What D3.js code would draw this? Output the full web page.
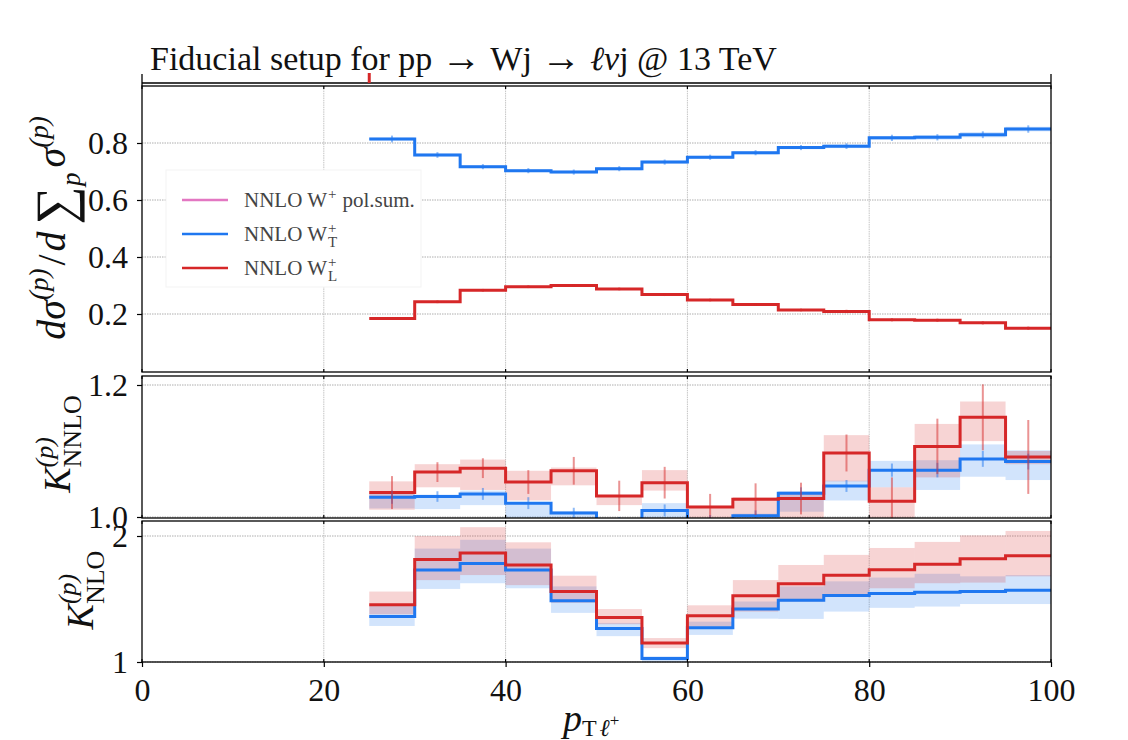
<!DOCTYPE html>
<html>
<head>
<meta charset="utf-8">
<script src="https://d3js.org/d3.v7.min.js"></script>
<style>
body { margin: 0; background: #fff; }
svg { display: block; font-family: "Liberation Serif", "DejaVu Serif", serif; }
</style>
</head>
<body>
<svg id="chart" width="1128" height="740"></svg>
<script>
// pT bins (GeV): lower edges plus the last upper edge
const binEdges = [25, 30, 35, 40, 45, 50, 55, 60, 65, 70, 75, 80, 85, 90, 95, 100];
const xTicks = [0, 20, 40, 60, 80, 100];

// top panel: polarisation fractions
const fracT    = [0.814, 0.758, 0.717, 0.703, 0.698, 0.710, 0.733, 0.750, 0.766, 0.784, 0.789, 0.818, 0.820, 0.829, 0.849];
const fracT_lo = [0.809, 0.753, 0.712, 0.698, 0.693, 0.704, 0.727, 0.744, 0.760, 0.778, 0.782, 0.811, 0.812, 0.820, 0.841];
const fracT_hi = [0.819, 0.763, 0.722, 0.708, 0.703, 0.715, 0.738, 0.755, 0.771, 0.789, 0.795, 0.824, 0.828, 0.838, 0.857];
const fracT_err = [0.012, 0.010, 0.009, 0.009, 0.009, 0.009, 0.009, 0.009, 0.009, 0.009, 0.010, 0.011, 0.011, 0.012, 0.013];
const fracL    = [0.184, 0.243, 0.283, 0.296, 0.300, 0.288, 0.268, 0.249, 0.233, 0.214, 0.209, 0.180, 0.178, 0.169, 0.150];
const fracL_lo = [0.181, 0.240, 0.280, 0.293, 0.297, 0.285, 0.265, 0.246, 0.230, 0.211, 0.206, 0.177, 0.175, 0.166, 0.147];
const fracL_hi = [0.187, 0.246, 0.286, 0.299, 0.303, 0.291, 0.271, 0.252, 0.236, 0.217, 0.212, 0.183, 0.181, 0.172, 0.153];
const fracL_err = [0.005, 0.005, 0.005, 0.005, 0.005, 0.005, 0.005, 0.005, 0.005, 0.005, 0.006, 0.006, 0.006, 0.006, 0.006];

// middle panel: K-factor NNLO/NLO
const kNNLO_T    = [1.030, 1.031, 1.035, 1.021, 1.006, 0.992, 1.010, 0.995, 1.002, 1.036, 1.047, 1.071, 1.071, 1.088, 1.084];
const kNNLO_T_lo = [1.013, 1.012, 1.018, 0.998, 0.990, 0.980, 0.995, 0.982, 0.990, 1.008, 1.025, 1.045, 1.041, 1.061, 1.056];
const kNNLO_T_hi = [1.036, 1.034, 1.040, 1.022, 1.009, 0.996, 1.021, 0.998, 1.005, 1.039, 1.055, 1.085, 1.086, 1.110, 1.101];
const kNNLO_T_err = [0.010, 0.008, 0.009, 0.009, 0.008, 0.008, 0.009, 0.008, 0.008, 0.009, 0.009, 0.010, 0.011, 0.012, 0.012];
const kNNLO_L    = [1.037, 1.068, 1.074, 1.053, 1.070, 1.032, 1.052, 1.015, 1.027, 1.028, 1.097, 1.024, 1.107, 1.151, 1.091];
const kNNLO_L_lo = [1.011, 1.045, 1.041, 1.025, 1.048, 1.018, 1.040, 0.998, 1.000, 0.998, 1.054, 0.990, 1.060, 1.115, 1.080];
const kNNLO_L_hi = [1.054, 1.080, 1.087, 1.070, 1.075, 1.033, 1.071, 1.017, 1.030, 1.038, 1.124, 1.045, 1.141, 1.175, 1.100];
const kNNLO_L_err = [0.025, 0.015, 0.015, 0.018, 0.021, 0.023, 0.024, 0.020, 0.024, 0.024, 0.028, 0.036, 0.042, 0.050, 0.056];

// bottom panel: K-factor NLO/LO
const kNLO_T    = [1.362, 1.730, 1.782, 1.730, 1.486, 1.265, 1.027, 1.271, 1.420, 1.491, 1.528, 1.543, 1.554, 1.559, 1.570];
const kNLO_T_lo = [1.286, 1.580, 1.625, 1.585, 1.390, 1.205, 0.985, 1.215, 1.344, 1.342, 1.400, 1.430, 1.440, 1.460, 1.460];
const kNLO_T_hi = [1.444, 1.900, 1.970, 1.900, 1.600, 1.310, 1.045, 1.320, 1.480, 1.600, 1.640, 1.670, 1.700, 1.680, 1.690];
const kNLO_L    = [1.454, 1.814, 1.866, 1.769, 1.559, 1.354, 1.150, 1.368, 1.525, 1.622, 1.688, 1.732, 1.775, 1.819, 1.843];
const kNLO_L_lo = [1.379, 1.650, 1.690, 1.610, 1.470, 1.300, 1.110, 1.280, 1.400, 1.480, 1.520, 1.585, 1.625, 1.630, 1.680];
const kNLO_L_hi = [1.559, 2.000, 2.070, 1.950, 1.685, 1.420, 1.190, 1.450, 1.650, 1.770, 1.850, 1.905, 1.953, 2.005, 2.040];

const colT = '#1f77f0', colL = '#d62728', colSum = '#e377c2';

const svg = d3.select('#chart');
svg.append('rect').attr('width', 1128).attr('height', 740).attr('fill', '#fff');

const x = d3.scaleLinear().domain([0, 100]).range([142, 1051]);

function makePanel(id, top, bottom, domain, range, ticks, fmt) {
    let p = {};
    p.top = top; p.bottom = bottom;
    p.y = d3.scaleLinear().domain(domain).range(range);
    svg.append('clipPath').attr('id', id)
        .append('rect')
        .attr('x', x(0)).attr('y', top)
        .attr('width', x(100) - x(0)).attr('height', bottom - top);

    p.grid = svg.append('g');
    // vertical grid
    p.grid.selectAll('.vgrid')
        .data([20, 40, 60, 80])
        .join('line')
        .attr('x1', d => x(d)).attr('x2', d => x(d))
        .attr('y1', top).attr('y2', bottom)
        .attr('stroke', '#c4c4c4').attr('stroke-width', 1)
        .attr('stroke-dasharray', '1.5,0.8');
    // horizontal grid
    p.grid.selectAll('.hgrid')
        .data(ticks)
        .join('line')
        .attr('x1', x(0)).attr('x2', x(100))
        .attr('y1', d => p.y(d)).attr('y2', d => p.y(d))
        .attr('stroke', '#9a9a9a').attr('stroke-width', 0.8)
        .attr('stroke-dasharray', '1.5,1');

    p.g = svg.append('g').attr('clip-path', `url(#${id})`);
    p.ticks = ticks; p.fmt = fmt;
    return p;
}

function finishPanel(p) {
    svg.append('rect')
        .attr('x', x(0)).attr('y', p.top)
        .attr('width', x(100) - x(0)).attr('height', p.bottom - p.top)
        .attr('fill', 'none').attr('stroke', '#000').attr('stroke-width', 1.3);

    let yAxis = d3.axisLeft(p.y)
        .tickValues(p.ticks)
        .tickSize(5)
        .tickPadding(9)
        .tickFormat(p.fmt);
    svg.append('g')
        .attr('transform', `translate(${x(0)},0)`)
        .call(yAxis)
        .call(g => g.select('.domain').remove())
        .call(g => g.selectAll('text')
            .attr('font-family', '"Liberation Serif", serif')
            .attr('font-size', 32)
            .attr('fill', '#111'))
        .call(g => g.selectAll('line').attr('stroke-width', 1.2));

    // small tick marks on the top and bottom spines
    svg.append('g').selectAll('line')
        .data(xTicks.flatMap(d => [[d, p.top, p.top + 3], [d, p.bottom, p.bottom - 3]]))
        .join('line')
        .attr('x1', d => x(d[0])).attr('x2', d => x(d[0]))
        .attr('y1', d => d[1]).attr('y2', d => d[2])
        .attr('stroke', '#000').attr('stroke-width', 1.2);
}

function drawBand(p, lo, hi, color) {
    p.g.append('g').selectAll('rect')
        .data(lo.map((d, i) => ({i: i, lo: d, hi: hi[i]})))
        .join('rect')
        .attr('x', d => x(binEdges[d.i]))
        .attr('width', d => x(binEdges[d.i + 1]) - x(binEdges[d.i]))
        .attr('y', d => p.y(d.hi))
        .attr('height', d => p.y(d.lo) - p.y(d.hi))
        .attr('fill', color).attr('fill-opacity', 0.2);
}

function drawStep(p, vals, color) {
    let pts = binEdges.map((e, i) => [e, vals[Math.min(i, vals.length - 1)]]);
    let line = d3.line()
        .x(d => x(d[0]))
        .y(d => p.y(d[1]))
        .curve(d3.curveStepAfter);
    p.g.append('path')
        .datum(pts)
        .attr('d', line)
        .attr('fill', 'none')
        .attr('stroke', color)
        .attr('stroke-width', 3);
}

function drawErr(p, vals, err, color) {
    p.g.append('g').selectAll('line')
        .data(vals.map((v, i) => ({i: i, v: v, e: err[i]})))
        .join('line')
        .attr('x1', d => x((binEdges[d.i] + binEdges[d.i + 1]) / 2))
        .attr('x2', d => x((binEdges[d.i] + binEdges[d.i + 1]) / 2))
        .attr('y1', d => p.y(d.v - d.e))
        .attr('y2', d => p.y(d.v + d.e))
        .attr('stroke', color).attr('stroke-opacity', 0.5)
        .attr('stroke-width', 2);
}

// text built from pieces, with super/subscripts; stack = same start as previous piece
function mathText(parent, pieces) {
    let g = parent.append('g').attr('fill', '#111');
    let cx = 0, prevStart = 0, prevW = 0;
    pieces.forEach(pc => {
        let x0 = pc.stack ? prevStart : cx + (pc.gap || 0);
        let t = g.append('text')
            .attr('x', x0).attr('y', pc.dy || 0)
            .attr('font-size', pc.size)
            .attr('font-style', pc.it ? 'italic' : 'normal')
            .text(pc.t);
        let w = t.node().getComputedTextLength();
        if (pc.stack) {
            prevW = Math.max(prevW, w);
            cx = prevStart + prevW;
        } else {
            prevStart = x0; prevW = w; cx = x0 + w;
        }
    });
    g.width = cx;
    return g;
}

function rotLabel(pieces, bx, cy) {
    let g = mathText(svg, pieces);
    g.attr('transform', `translate(${bx},${cy}) rotate(-90) translate(${-g.width / 2},0)`);
}

// ---- panels ----
const pTop = makePanel('clipTop', 86, 372, [0, 1], [371, 86], [0.2, 0.4, 0.6, 0.8], d3.format('.1f'));
drawBand(pTop, fracT_lo, fracT_hi, colT);
drawBand(pTop, fracL_lo, fracL_hi, colL);
drawStep(pTop, fracT, colT);
drawStep(pTop, fracL, colL);
drawErr(pTop, fracT, fracT_err, colT);
drawErr(pTop, fracL, fracL_err, colL);
finishPanel(pTop);

const pMid = makePanel('clipMid', 376, 518, [1, 1.2], [517, 385], [1.0, 1.2], d3.format('.1f'));
drawBand(pMid, kNNLO_T_lo, kNNLO_T_hi, colT);
drawBand(pMid, kNNLO_L_lo, kNNLO_L_hi, colL);
drawStep(pMid, kNNLO_T, colT);
drawStep(pMid, kNNLO_L, colL);
drawErr(pMid, kNNLO_T, kNNLO_T_err, colT);
drawErr(pMid, kNNLO_L, kNNLO_L_err, colL);
finishPanel(pMid);

const pBot = makePanel('clipBot', 521, 662, [1, 2], [662, 536], [1, 2], d3.format('d'));
drawBand(pBot, kNLO_T_lo, kNLO_T_hi, colT);
drawBand(pBot, kNLO_L_lo, kNLO_L_hi, colL);
drawStep(pBot, kNLO_T, colT);
drawStep(pBot, kNLO_L, colL);
finishPanel(pBot);

// x axis of the bottom panel
let xAxis = d3.axisBottom(x).tickValues(xTicks).tickSize(5).tickPadding(11).tickFormat(d3.format('d'));
svg.append('g')
    .attr('transform', `translate(0,${pBot.bottom})`)
    .call(xAxis)
    .call(g => g.select('.domain').remove())
    .call(g => g.selectAll('text')
        .attr('font-family', '"Liberation Serif", serif')
        .attr('font-size', 32)
        .attr('fill', '#111'))
    .call(g => g.selectAll('line').attr('stroke-width', 1.2));

// empty title axis above the top panel
svg.append('line').attr('x1', x(0)).attr('x2', x(100)).attr('y1', 83).attr('y2', 83)
    .attr('stroke', '#000').attr('stroke-width', 1.3);
svg.selectAll('.sidespine')
    .data([0, 100])
    .join('line')
    .attr('x1', d => x(d)).attr('x2', d => x(d))
    .attr('y1', 74).attr('y2', 86)
    .attr('stroke', '#000').attr('stroke-width', 1.3);
svg.append('line')
    .attr('x1', x(binEdges[0])).attr('x2', x(binEdges[0]))
    .attr('y1', 73).attr('y2', 83)
    .attr('stroke', colL).attr('stroke-width', 3);

// title
let title = mathText(svg, [
    {t: 'Fiducial setup for pp', size: 34},
    {t: '\u2192', size: 40, gap: 9, dy: 1},
    {t: 'Wj', size: 34, gap: 9},
    {t: '\u2192', size: 40, gap: 9, dy: 1},
    {t: '\u2113\u03bd', size: 34, it: true, gap: 9},
    {t: 'j @ 13 TeV', size: 34}
]);
title.attr('transform', 'translate(150,70)');

// legend
const legendItems = [
    {color: colSum, pieces: [{t: 'NNLO W', size: 21}, {t: '+', size: 15, dy: -8, gap: 1}, {t: 'pol.sum.', size: 21, gap: 6}]},
    {color: colT, pieces: [{t: 'NNLO W', size: 21}, {t: '+', size: 15, dy: -8, gap: 1}, {t: 'T', size: 15, dy: 6, stack: true}]},
    {color: colL, pieces: [{t: 'NNLO W', size: 21}, {t: '+', size: 15, dy: -8, gap: 1}, {t: 'L', size: 15, dy: 6, stack: true}]}
];
let legend = svg.append('g');
legend.append('rect')
    .attr('x', 166).attr('y', 170).attr('width', 255).attr('height', 117)
    .attr('fill', '#fff').attr('stroke', '#f3f3f3');
legendItems.forEach((d, i) => {
    let ly = 200 + i * 34;
    legend.append('line')
        .attr('x1', 182).attr('x2', 228).attr('y1', ly).attr('y2', ly)
        .attr('stroke', d.color).attr('stroke-width', 2.5);
    let t = mathText(legend, d.pieces);
    t.attr('fill', '#444').attr('transform', `translate(244,${ly + 7})`);
});

// axis labels
rotLabel([
    {t: 'd', size: 40, it: true},
    {t: '\u03c3', size: 40, it: true},
    {t: '(p)', size: 27, it: true, dy: -17},
    {t: '/', size: 40, gap: 3},
    {t: 'd', size: 40, it: true, gap: 3},
    {t: '\u2211', size: 54, dy: 8, gap: 7},
    {t: 'p', size: 27, it: true, dy: 15},
    {t: '\u03c3', size: 40, it: true, gap: 5},
    {t: '(p)', size: 27, it: true, dy: -17}
], 65, 228);

rotLabel([
    {t: 'K', size: 38, it: true},
    {t: '(p)', size: 26, it: true, dy: -17},
    {t: 'NNLO', size: 26, dy: 11, stack: true}
], 70, 444);

rotLabel([
    {t: 'K', size: 38, it: true},
    {t: '(p)', size: 26, it: true, dy: -17},
    {t: 'NLO', size: 26, dy: 11, stack: true}
], 93, 590);

let xlab = mathText(svg, [
    {t: 'p', size: 38, it: true},
    {t: 'T', size: 24, dy: 5},
    {t: '\u2113', size: 24, it: true, dy: 5, gap: 3},
    {t: '+', size: 17, dy: -5}
]);
xlab.attr('transform', 'translate(563,731)');
</script>
</body>
</html>
